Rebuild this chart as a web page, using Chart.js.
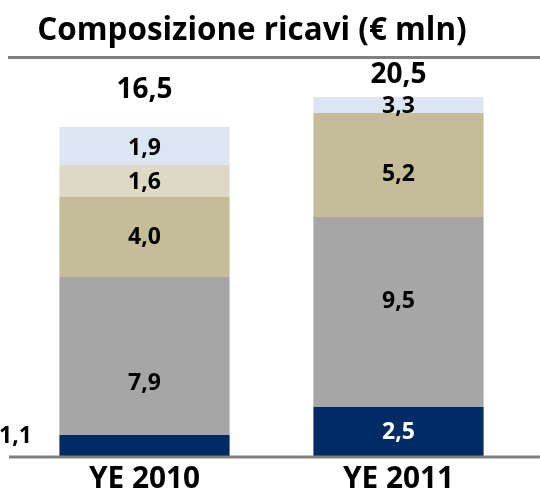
<!DOCTYPE html>
<html>
<head>
<meta charset="utf-8">
<script src="https://cdn.jsdelivr.net/npm/chart.js@4.4.0/dist/chart.umd.min.js"></script>
<style>
    html, body { margin: 0; padding: 0; background: #ffffff; }
    #wrap { width: 540px; height: 495px; position: relative; }
</style>
</head>
<body>
<div id="wrap"><canvas id="ricavi"></canvas></div>
<script>
// Categories and series (segment heights as drawn, labels as printed)
const categories = ['YE 2010', 'YE 2011'];
const navyValues = [1.1, 2.5];
const grayValues = [7.9, 9.5];
const tanValues = [4.0, 5.2];
const beigeValues = [1.6, 0];
const lightBlueValues = [1.9, 0.8];

const navyLabels = ['1,1', '2,5'];
const grayLabels = ['7,9', '9,5'];
const tanLabels = ['4,0', '5,2'];
const beigeLabels = ['1,6', ''];
const lightBlueLabels = ['1,9', '3,3'];
const totalLabels = ['16,5', '20,5'];

const chartTitle = 'Composizione ricavi (€ mln)';
const FONT = '"Open Sans", Lato, sans-serif';

// pick a font size so that text spans the given width
function fitFont(ctx, text, width, base) {
    ctx.font = 'bold ' + base + 'px ' + FONT;
    const size = base * width / ctx.measureText(text).width;
    ctx.font = 'bold ' + size.toFixed(1) + 'px ' + FONT;
}

// Draws title, rules, category labels, totals and segment labels
const decorPlugin = {
    id: 'decor',
    afterDatasetsDraw(chart) {
        const ctx = chart.ctx;
        const area = chart.chartArea;
        const xScale = chart.scales.x;
        ctx.save();

        // title
        ctx.fillStyle = '#000000';
        ctx.textAlign = 'center';
        ctx.textBaseline = 'middle';
        fitFont(ctx, chartTitle, 430, 30);
        ctx.fillText(chartTitle, 252, 31);

        // rules
        ctx.strokeStyle = '#808080';
        ctx.lineWidth = 3;
        ctx.beginPath();
        ctx.moveTo(8, 57.5);
        ctx.lineTo(540, 57.5);
        ctx.moveTo(9, area.bottom);
        ctx.lineTo(540, area.bottom);
        ctx.stroke();

        // category labels
        ctx.fillStyle = '#000000';
        categories.forEach((c, i) => {
            fitFont(ctx, c, 111, 30);
            ctx.fillText(c, xScale.getPixelForValue(i), 480);
        });

        // segment labels
        chart.data.datasets.forEach((ds, di) => {
            const meta = chart.getDatasetMeta(di);
            meta.data.forEach((bar, i) => {
                const text = ds.segmentLabels[i];
                if (!text) return;
                const p = bar.getProps(['x', 'y', 'base', 'width'], true);
                let x = p.x;
                let y = (p.y + p.base) / 2 + ds.labelShift[i];
                ctx.fillStyle = ds.labelColor;
                if (ds.outside && ds.outside[i]) {
                    x = p.x - p.width / 2 - 44;
                    ctx.fillStyle = '#000000';
                }
                ctx.font = 'bold 23px ' + FONT;
                ctx.fillText(text, x, y);
            });
        });

        // totals above the stacks
        const lastMeta = chart.getDatasetMeta(chart.data.datasets.length - 1);
        lastMeta.data.forEach((bar, i) => {
            const p = bar.getProps(['x', 'y'], true);
            ctx.fillStyle = '#000000';
            ctx.font = 'bold 28px ' + FONT;
            ctx.fillText(totalLabels[i], p.x, p.y + decorOffsets[i]);
        });

        ctx.restore();
    }
};
const decorOffsets = [-37, -22];

const canvas = document.getElementById('ricavi');
const ctx = canvas.getContext('2d');

new Chart(ctx, {
    type: 'bar',
    data: {
        labels: categories,
        datasets: [
            {
                data: navyValues,
                backgroundColor: '#002B65',
                segmentLabels: navyLabels,
                labelColor: '#ffffff',
                labelShift: [-10, 0],
                outside: [true, false]
            },
            {
                data: grayValues,
                backgroundColor: '#A6A6A6',
                segmentLabels: grayLabels,
                labelColor: '#000000',
                labelShift: [27, -11]
            },
            {
                data: tanValues,
                backgroundColor: '#C4BD97',
                segmentLabels: tanLabels,
                labelColor: '#000000',
                labelShift: [0, 9]
            },
            {
                data: beigeValues,
                backgroundColor: '#DDD9C4',
                segmentLabels: beigeLabels,
                labelColor: '#000000',
                labelShift: [1, 0]
            },
            {
                data: lightBlueValues,
                backgroundColor: '#DCE6F2',
                segmentLabels: lightBlueLabels,
                labelColor: '#000000',
                labelShift: [2, 1]
            }
        ]
    },
    options: {
        responsive: true,
        maintainAspectRatio: false,
        animation: false,
        layout: {
            padding: { top: 57, bottom: 38, left: 17.5, right: 14.5 }
        },
        datasets: {
            bar: {
                categoryPercentage: 1,
                barPercentage: 0.67,
                borderWidth: 0
            }
        },
        plugins: {
            legend: { display: false },
            title: { display: false },
            tooltip: { enabled: false }
        },
        scales: {
            x: {
                stacked: true,
                display: false
            },
            y: {
                stacked: true,
                display: false,
                min: 0,
                max: 20
            }
        }
    },
    plugins: [decorPlugin]
});
</script>
</body>
</html>
